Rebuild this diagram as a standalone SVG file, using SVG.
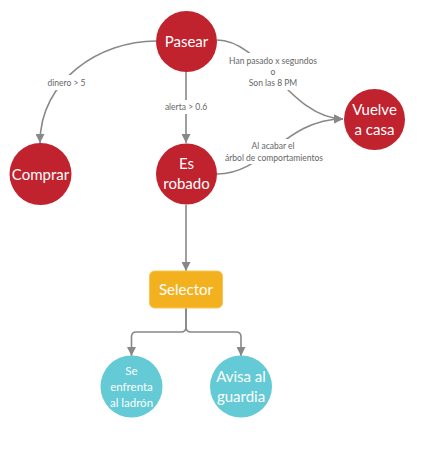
<svg xmlns="http://www.w3.org/2000/svg" width="426" height="469" viewBox="0 0 426 469">
<defs>
<marker id="arr" viewBox="0 0 10 10" refX="10" refY="5" markerWidth="9" markerHeight="9" markerUnits="userSpaceOnUse" orient="auto">
<path d="M0,0 L10,5 L0,10 z" fill="#888"/>
</marker>
<style>
.edge{fill:none;stroke:#888;stroke-width:1.6}
.lbl{font-family:Lato,"Liberation Sans",sans-serif;font-size:8.5px;fill:#666;text-anchor:middle}
.gap{fill:#fff}
.red{fill:#c0222e}
.teal{fill:#63cad6}
.nt{font-family:Lato,"Liberation Sans",sans-serif;font-size:15px;fill:#fff;text-anchor:middle}
.st{font-family:Lato,"Liberation Sans",sans-serif;font-size:11.5px;fill:#fff;text-anchor:middle}
</style>
</defs>
<rect width="426" height="469" fill="#fff"/>
<g id="connectors">
<path class="edge" d="M156,41 C100,41 40,80 40,143" marker-end="url(#arr)"/>
<path class="edge" d="M186,71 V143" marker-end="url(#arr)"/>
<path class="edge" d="M217,40 C262,40 290,118 343,119" marker-end="url(#arr)"/>
<path class="edge" d="M217,174 C265,174 285,119 343,119" marker-end="url(#arr)"/>
<path class="edge" d="M186,205 V271" marker-end="url(#arr)"/>
<path class="edge" d="M186,308 V327 Q186,332 181,332 H136 Q131.5,332 131.5,337 V356" marker-end="url(#arr)"/>
<path class="edge" d="M186,308 V327 Q186,332 191,332 H236 Q241,332 241,337 V356" marker-end="url(#arr)"/>
<rect class="gap" x="46" y="75" width="42" height="15"/>
<rect class="gap" x="160" y="100" width="52" height="14"/>
<rect class="gap" x="229" y="53" width="88" height="37"/>
<rect class="gap" x="226" y="139" width="96" height="25"/>
<text class="lbl" x="66.5" y="85.5">dinero &gt; 5</text>
<text class="lbl" x="186" y="110">alerta &gt; 0.6</text>
<text class="lbl" x="273" y="64">Han pasado x segundos</text>
<text class="lbl" x="273" y="75">o</text>
<text class="lbl" x="273" y="86">Son las 8 PM</text>
<text class="lbl" x="273" y="149">Al acabar el</text>
<text class="lbl" x="274" y="160.5">árbol de comportamientos</text>
</g>
<g id="pasear">
<circle class="red" cx="186.5" cy="41.5" r="30.5"/>
<text class="nt" x="186.5" y="47">Pasear</text>
</g>
<g id="comprar">
<circle class="red" cx="40.5" cy="174" r="31"/>
<text class="nt" x="40.5" y="180">Comprar</text>
</g>
<g id="es-robado">
<circle class="red" cx="186.5" cy="174" r="30.5"/>
<text class="nt" x="186.5" y="169">Es</text>
<text class="nt" x="186.5" y="189">robado</text>
</g>
<g id="vuelve-a-casa">
<circle class="red" cx="374.5" cy="119.5" r="30.5"/>
<text class="nt" x="374.5" y="115">Vuelve</text>
<text class="nt" x="374.5" y="135">a casa</text>
</g>
<g id="selector">
<rect x="149.5" y="271" width="73" height="37" rx="5" fill="#f3b120" stroke="#f7c65a" stroke-width="1"/>
<text class="nt" x="186" y="295">Selector</text>
</g>
<g id="se-enfrenta">
<circle class="teal" cx="131.5" cy="386.5" r="31"/>
<text class="st" x="131.5" y="375">Se</text>
<text class="st" x="131.5" y="391">enfrenta</text>
<text class="st" x="131.5" y="407">al ladrón</text>
</g>
<g id="avisa">
<circle class="teal" cx="241" cy="386.5" r="31"/>
<text class="nt" x="241" y="382">Avisa al</text>
<text class="nt" x="241" y="402">guardia</text>
</g>
</svg>
